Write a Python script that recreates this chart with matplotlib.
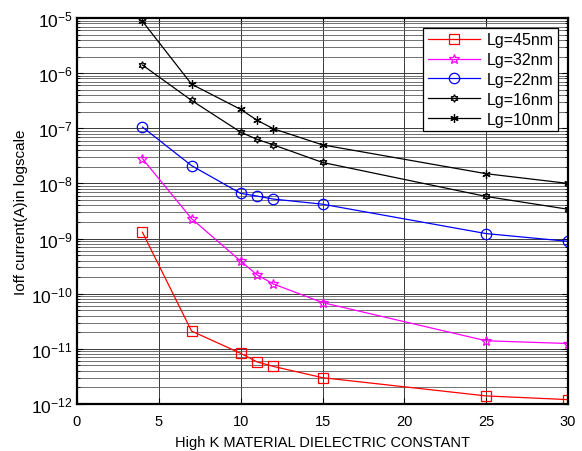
import numpy as np
import matplotlib
matplotlib.use('Agg')
import matplotlib.pyplot as plt
from matplotlib.ticker import LogLocator, FixedLocator, NullFormatter

plt.rcParams['font.family'] = ['Liberation Sans', 'DejaVu Sans']
plt.rcParams['mathtext.default'] = 'regular'

# dielectric constant of the gate material
k_values = [4, 7, 10, 11, 12, 15, 25, 30]

# off-state current (A) per gate length
ioff_45 = [1.3e-9, 2.1e-11, 8.3e-12, 5.8e-12, 4.8e-12, 3.0e-12, 1.4e-12, 1.2e-12]
ioff_32 = [2.8e-8, 2.3e-9, 3.9e-10, 2.2e-10, 1.5e-10, 6.9e-11, 1.4e-11, 1.25e-11]
ioff_22 = [1.05e-7, 2.1e-8, 6.6e-9, 5.9e-9, 5.2e-9, 4.2e-9, 1.23e-9, 8.9e-10]
ioff_16 = [1.4e-6, 3.2e-7, 8.5e-8, 6.3e-8, 5.0e-8, 2.4e-8, 5.8e-9, 3.4e-9]
ioff_10 = [8.7e-6, 6.3e-7, 2.2e-7, 1.4e-7, 9.8e-8, 5.0e-8, 1.5e-8, 1.0e-8]

labels = ['Lg=45nm', 'Lg=32nm', 'Lg=22nm', 'Lg=16nm', 'Lg=10nm']

fig = plt.figure(figsize=(5.82, 4.52), dpi=100)
ax = fig.add_axes([0.1323, 0.104, 0.8437, 0.854])

styles = [
    dict(color='red', marker='s', markersize=7.5),
    dict(color='magenta', marker='*', markersize=7.5),
    dict(color='blue', marker='o', markersize=7.5),
    dict(color='black', marker=(6, 1, 0), markersize=5.5),
    dict(color='black', marker=(6, 2, 0), markersize=6),
]
series = [ioff_45, ioff_32, ioff_22, ioff_16, ioff_10]
for vals, lab, st in zip(series, labels, styles):
    ax.plot(k_values, vals, linewidth=0.9, markerfacecolor='none',
            markeredgecolor=st['color'], markeredgewidth=0.9, label=lab, **st)

ax.set_yscale('log')
ax.set_xlim(0, 30)
ax.set_ylim(1e-12, 1e-5)
ax.xaxis.set_major_locator(FixedLocator([0, 5, 10, 15, 20, 25, 30]))
ax.yaxis.set_major_locator(LogLocator(base=10, numticks=10))
ax.yaxis.set_minor_locator(LogLocator(base=10, subs=np.arange(2, 10), numticks=10))
ax.yaxis.set_minor_formatter(NullFormatter())

# grid: major x/y lines plus minor y lines
ax.grid(True, which='major', axis='both', color='#383838', linewidth=0.7)
ax.grid(True, which='minor', axis='y', color='#5a5a5a', linewidth=0.6)
ax.set_axisbelow(True)

ax.tick_params(which='both', direction='in', top=True, right=True)
ax.tick_params(axis='x', labelsize=10.5, pad=7)
ax.tick_params(axis='y', labelsize=12.5, pad=3)
ax.tick_params(which='major', length=4)
ax.tick_params(which='minor', length=2.5)
for sp in ax.spines.values():
    sp.set_linewidth(1.6)

ax.set_xlabel('High K MATERIAL DIELECTRIC CONSTANT', fontsize=10.5, labelpad=5)
ax.set_ylabel('Ioff current(A)in logscale', fontsize=11, labelpad=2)

leg = ax.legend(loc='upper right', fontsize=11.5, fancybox=False, framealpha=1,
                edgecolor='black', borderpad=0.3, labelspacing=0.3,
                handlelength=3.3, handletextpad=0.4, borderaxespad=0.6)
leg.get_frame().set_linewidth(0.9)

plt.savefig('out.png', dpi=100)
